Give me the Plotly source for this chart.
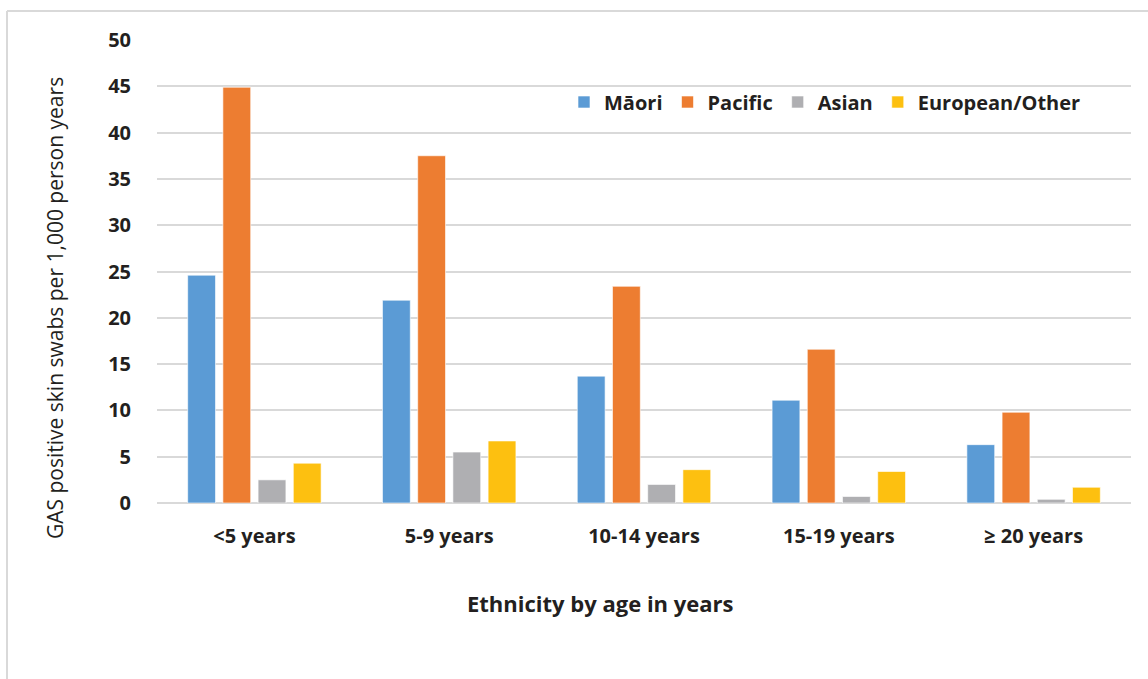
import plotly.graph_objects as go

categories = ["<5 years", "5-9 years", "10-14 years", "15-19 years", "≥ 20 years"]
maori = [24.6, 21.9, 13.7, 11.1, 6.3]
pacific = [44.9, 37.5, 23.4, 16.6, 9.8]
asian = [2.5, 5.5, 2.0, 0.7, 0.4]
european = [4.3, 6.7, 3.6, 3.4, 1.7]

series_names = ["Māori", "Pacific", "Asian", "European/Other"]
series_values = [maori, pacific, asian, european]
series_colors = ["#5B9BD5", "#ED7D31", "#AFAFB2", "#FDC010"]

FONT = "Open Sans"
TXT = "#231F20"
GRID = "#D9D9D9"

W, H = 1148, 679
L, R, T, B = 157, 17, 40, 176
pw, ph = W - L - R, H - T - B

fig = go.Figure()
for name, vals, col in zip(series_names, series_values, series_colors):
    fig.add_trace(go.Bar(
        x=categories, y=vals, name=name,
        marker=dict(color=col, line=dict(color="rgba(255,255,255,0.6)", width=1)),
    ))

def px_x(p):
    return (p - L) / pw

def px_y(p):
    return (H - B - p) / ph

fig.update_layout(
    width=W, height=H,
    margin=dict(l=L, r=R, t=T, b=B),
    paper_bgcolor="white", plot_bgcolor="white",
    barmode="group", bargap=0.277, bargroupgap=0.21,
    font=dict(family=FONT, color=TXT),
    showlegend=True,
    legend=dict(
        orientation="h", x=px_x(564), y=px_y(102), xanchor="left", yanchor="middle",
        font=dict(family=FONT, size=20, color=TXT, weight="bold"),
        itemwidth=30, bgcolor="rgba(0,0,0,0)", tracegroupgap=0,
    ),
    xaxis=dict(
        showgrid=False, showline=False, zeroline=False,
        ticks="outside", ticklen=15, tickcolor="rgba(0,0,0,0)",
        tickfont=dict(family=FONT, size=20, color=TXT, weight="bold"),
    ),
    yaxis=dict(
        range=[0, 50], dtick=5, tick0=0,
        showgrid=True, gridcolor=GRID, gridwidth=1.5,
        zeroline=True, zerolinecolor=GRID, zerolinewidth=2,
        showline=False,
        ticks="outside", ticklen=21, tickcolor="rgba(0,0,0,0)",
        tickfont=dict(family=FONT, size=20, color=TXT, weight="bold"),
    ),
    annotations=[
        dict(text="GAS positive skin swabs per 1,000 person years",
             xref="paper", yref="paper", x=px_x(55), y=px_y(308),
             xanchor="center", yanchor="middle", textangle=-90, showarrow=False,
             font=dict(family=FONT, size=21, color=TXT)),
        dict(text="<b>Ethnicity by age in years</b>",
             xref="paper", yref="paper", x=px_x(600), y=px_y(603),
             xanchor="center", yanchor="middle", showarrow=False,
             font=dict(family=FONT, size=22, color=TXT)),
    ],
    shapes=[
        dict(type="line", xref="paper", yref="paper",
             x0=px_x(7), x1=px_x(1200), y0=px_y(11), y1=px_y(11),
             line=dict(color=GRID, width=2)),
        dict(type="line", xref="paper", yref="paper",
             x0=px_x(7), x1=px_x(7), y0=px_y(11), y1=px_y(720),
             line=dict(color=GRID, width=2)),
    ],
)

fig.write_html("out.html")
